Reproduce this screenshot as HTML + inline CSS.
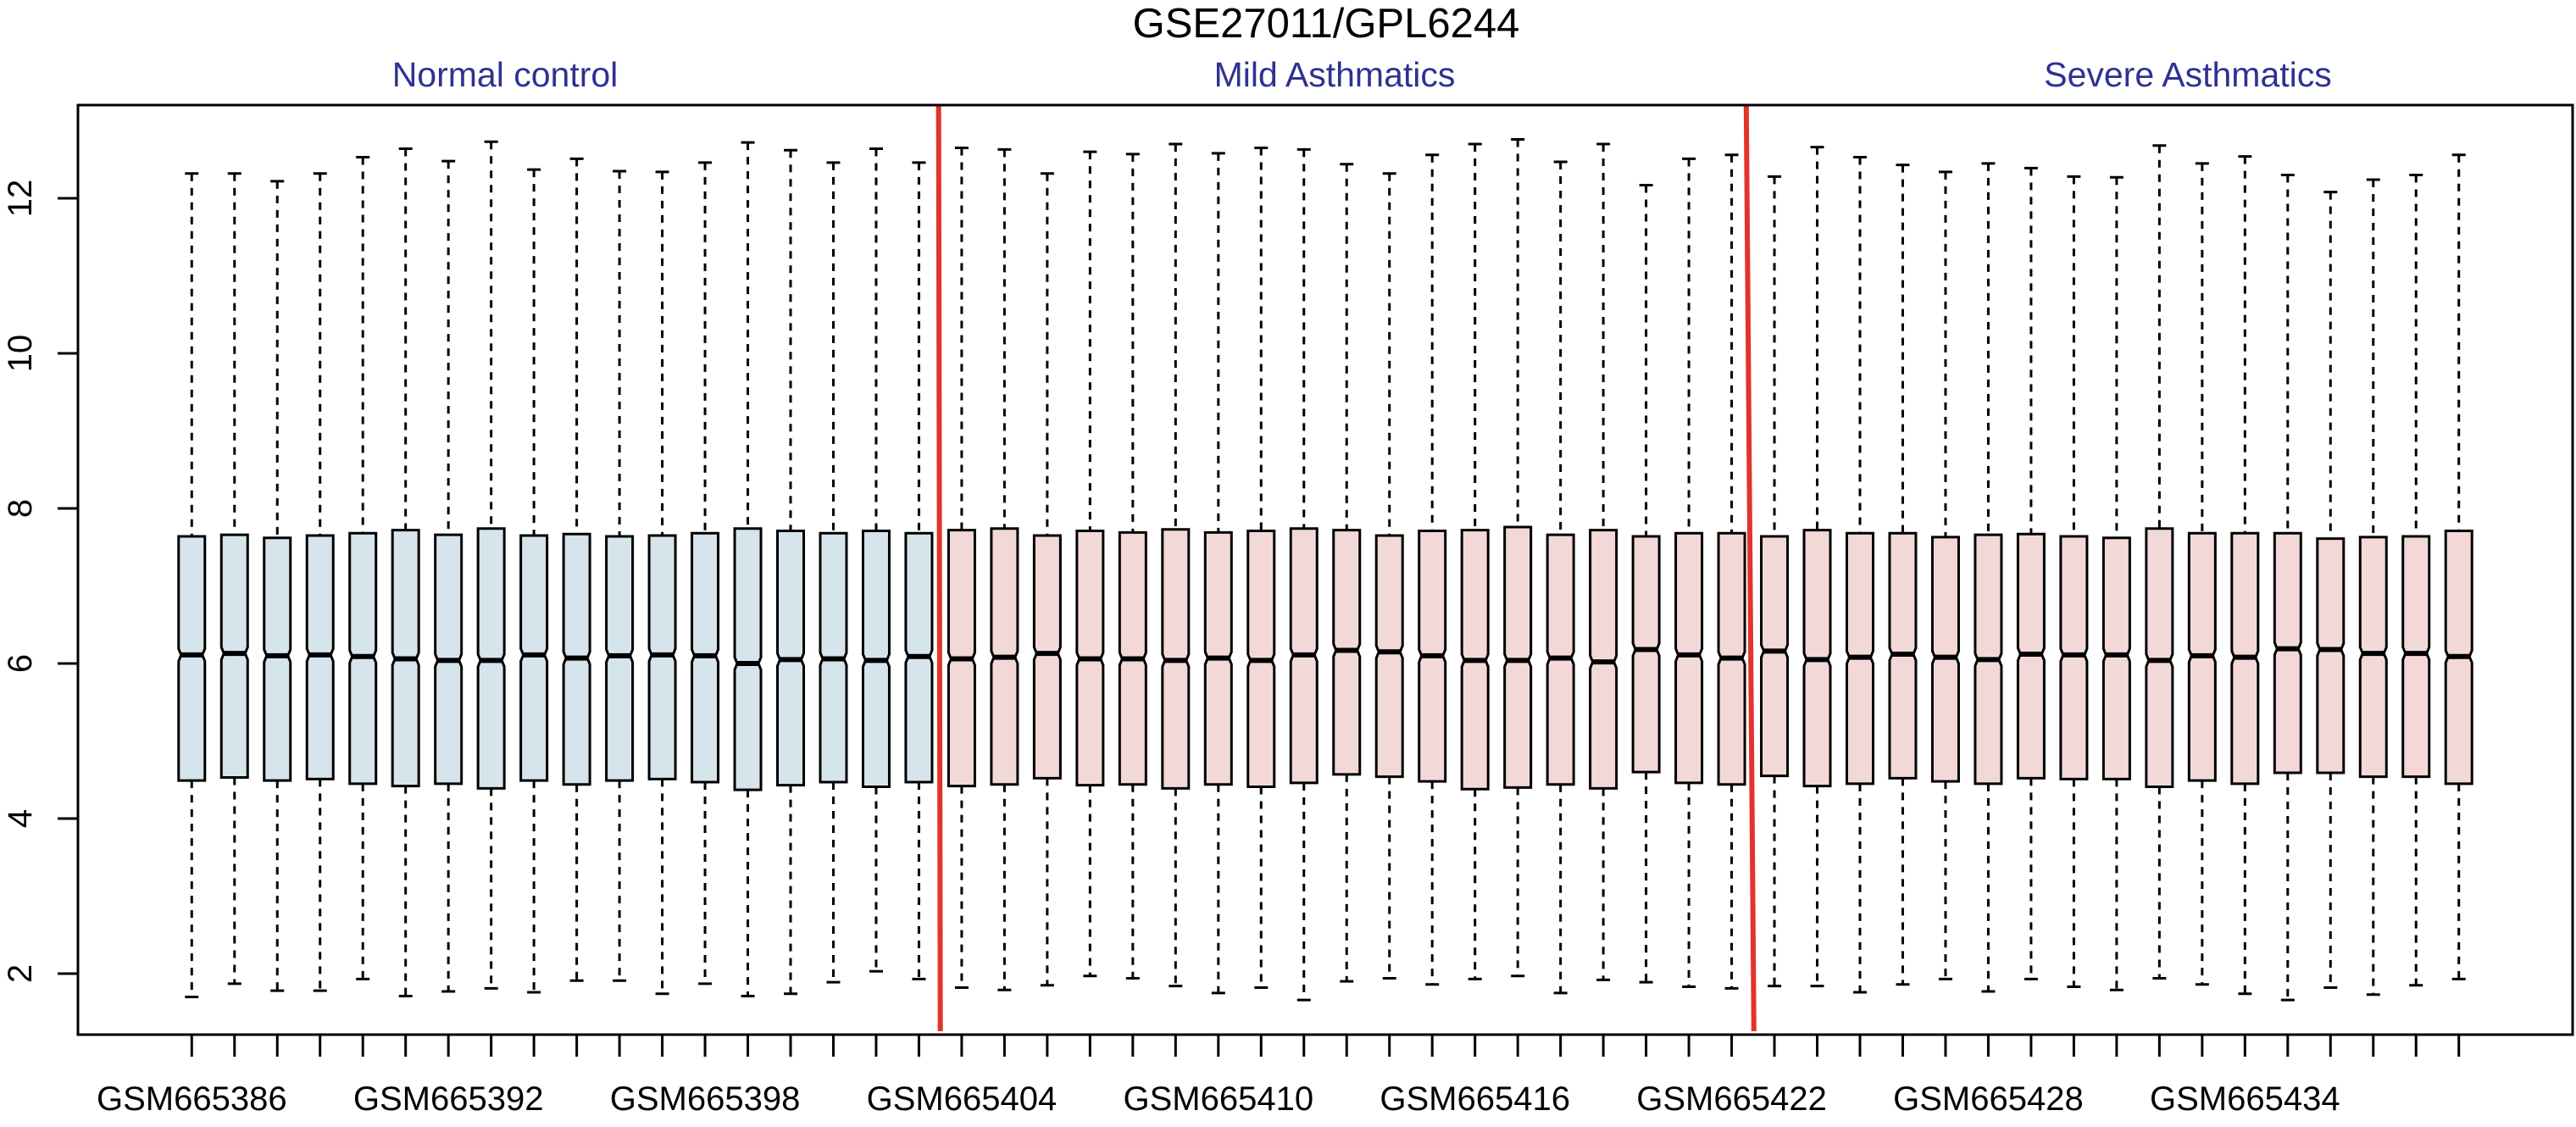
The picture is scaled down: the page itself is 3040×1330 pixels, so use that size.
<!DOCTYPE html>
<html><head><meta charset="utf-8"><style>html,body{margin:0;padding:0;background:#fff}svg{display:block}</style></head>
<body>
<svg id="chart" width="3040" height="1330" viewBox="0 0 3040 1330" xmlns="http://www.w3.org/2000/svg" font-family="'Liberation Sans', sans-serif">
<rect width="3040" height="1330" fill="#fff"/>
<text x="1565" y="44" font-size="49" text-anchor="middle" fill="#000">GSE27011/GPL6244</text>
<text x="596" y="102" font-size="41" text-anchor="middle" fill="#2e3192">Normal control</text>
<text x="1575" y="102" font-size="41" text-anchor="middle" fill="#2e3192">Mild Asthmatics</text>
<text x="2582" y="102" font-size="41" text-anchor="middle" fill="#2e3192">Severe Asthmatics</text>
<g id="marks"></g>
<rect x="92" y="124" width="2944" height="1097" fill="none" stroke="#000" stroke-width="3"/>
</svg>
<script>
const firstId = 665386;
const groups = [18, 19, 17];
const upperWhisker = [12.32,12.32,12.22,12.32,12.53,12.64,12.48,12.73,12.37,12.51,12.35,12.34,12.46,12.72,12.62,12.46,12.64,12.46,
12.65,12.63,12.32,12.60,12.57,12.70,12.58,12.65,12.63,12.44,12.32,12.56,12.70,12.76,12.47,12.70,12.17,12.51,12.56,
12.28,12.66,12.53,12.43,12.34,12.45,12.39,12.28,12.27,12.68,12.45,12.54,12.30,12.08,12.24,12.30,12.56];
const q3 = [7.64,7.66,7.62,7.65,7.68,7.72,7.66,7.74,7.65,7.67,7.64,7.65,7.68,7.74,7.71,7.68,7.71,7.68,
7.72,7.74,7.65,7.71,7.69,7.73,7.69,7.71,7.74,7.72,7.65,7.71,7.72,7.76,7.66,7.72,7.64,7.68,7.68,
7.64,7.72,7.68,7.68,7.63,7.66,7.67,7.64,7.62,7.74,7.68,7.68,7.68,7.61,7.63,7.64,7.71];
const medians = [6.11,6.13,6.10,6.11,6.09,6.06,6.04,6.04,6.11,6.07,6.10,6.11,6.10,6.00,6.05,6.06,6.04,6.09,
6.06,6.08,6.13,6.06,6.06,6.04,6.07,6.04,6.11,6.17,6.15,6.10,6.04,6.04,6.07,6.02,6.18,6.11,6.07,
6.16,6.05,6.08,6.12,6.08,6.05,6.12,6.11,6.11,6.04,6.10,6.08,6.19,6.18,6.13,6.13,6.09];
const q1 = [4.49,4.53,4.49,4.51,4.45,4.42,4.45,4.39,4.49,4.44,4.49,4.51,4.47,4.37,4.43,4.47,4.41,4.47,
4.42,4.44,4.52,4.43,4.44,4.39,4.44,4.41,4.46,4.57,4.54,4.48,4.38,4.40,4.44,4.39,4.60,4.46,4.44,
4.55,4.42,4.45,4.52,4.48,4.45,4.52,4.51,4.51,4.41,4.49,4.45,4.59,4.59,4.54,4.54,4.45];
const lowerWhisker = [1.70,1.87,1.78,1.78,1.93,1.71,1.77,1.81,1.76,1.91,1.91,1.74,1.87,1.71,1.74,1.89,2.03,1.93,
1.82,1.79,1.85,1.97,1.94,1.84,1.75,1.82,1.66,1.90,1.94,1.86,1.93,1.97,1.75,1.92,1.89,1.83,1.81,
1.84,1.84,1.76,1.86,1.93,1.77,1.93,1.83,1.79,1.94,1.86,1.74,1.66,1.82,1.73,1.85,1.93];
const yTicks = [2,4,6,8,10,12];

const NS = "http://www.w3.org/2000/svg";
const L = 92, R = 3036, T = 124, B = 1221;
const n = upperWhisker.length;
const xmin = 0.5 - 0.04*n, xmax = n + 0.5 + 0.04*n;
const X = i => L + (i - xmin) / (xmax - xmin) * (R - L);
const Y = v => 234 + (12 - v) * 91.5;
const g = document.getElementById('marks');
function mk(tag, attrs, parent) {
  const e = document.createElementNS(NS, tag);
  for (const k in attrs) e.setAttribute(k, attrs[k]);
  (parent || g).appendChild(e);
  return e;
}
for (const t of yTicks) {
  const tk = mk('line', {x1: L, x2: L - 24, y1: Y(t), y2: Y(t), stroke: '#000', 'stroke-width': 3});
  
  
  const tx = mk('text', {x: 37, y: Y(t), 'font-size': 40, 'text-anchor': 'middle', transform: `rotate(-90 37 ${Y(t)})`});
  tx.textContent = t;
  
  
}
const hw = 15.5, notchH = 0.08 * 91.5, notchIn = 3;
for (let k = 0; k < n; k++) {
  const i = k + 1, cx = X(i);
  const fill = k < groups[0] ? '#d6e4ec' : '#f2d9d8';
  const grp = mk('g', {});
  
  
  const wA = {stroke: '#000', 'stroke-width': 3, 'stroke-dasharray': '9,8'};
  mk('line', Object.assign({x1: cx, x2: cx, y1: Y(upperWhisker[k]), y2: Y(q3[k])}, wA), grp);
  mk('line', Object.assign({x1: cx, x2: cx, y1: Y(q1[k]), y2: Y(lowerWhisker[k])}, wA), grp);
  mk('line', {x1: cx - 8, x2: cx + 8, y1: Y(upperWhisker[k]), y2: Y(upperWhisker[k]), stroke: '#000', 'stroke-width': 3}, grp);
  mk('line', {x1: cx - 8, x2: cx + 8, y1: Y(lowerWhisker[k]), y2: Y(lowerWhisker[k]), stroke: '#000', 'stroke-width': 3}, grp);
  const ym = Y(medians[k]);
  const pts = [[cx-hw, Y(q3[k])],[cx+hw, Y(q3[k])],[cx+hw, ym-notchH],[cx+hw-notchIn, ym],[cx+hw, ym+notchH],[cx+hw, Y(q1[k])],
    [cx-hw, Y(q1[k])],[cx-hw, ym+notchH],[cx-hw+notchIn, ym],[cx-hw, ym-notchH]];
  mk('polygon', {points: pts.map(p => p.join(',')).join(' '), fill: fill, stroke: '#000', 'stroke-width': 3}, grp);
  mk('line', {x1: cx-hw+notchIn, x2: cx+hw-notchIn, y1: ym, y2: ym, stroke: '#000', 'stroke-width': 6}, grp);
  const xt = mk('line', {x1: cx, x2: cx, y1: B, y2: B + 26, stroke: '#000', 'stroke-width': 3});
  
  
  if (k % 6 === 0) {
    const lb = mk('text', {x: cx, y: 1310, 'font-size': 40, 'text-anchor': 'middle'});
    lb.textContent = 'GSM' + (firstId + k);
    
    
  }
}
const s1 = groups[0] + 0.5, s2 = groups[0] + groups[1] + 0.5;
const r1 = mk('line', {x1: X(s1) - 2, x2: X(s1), y1: T, y2: B - 4, stroke: '#e2342b', 'stroke-width': 6});


const r2 = mk('line', {x1: X(s2) - 8, x2: X(s2) + 1, y1: T, y2: B - 4, stroke: '#e2342b', 'stroke-width': 6});


</script>
</body></html>
